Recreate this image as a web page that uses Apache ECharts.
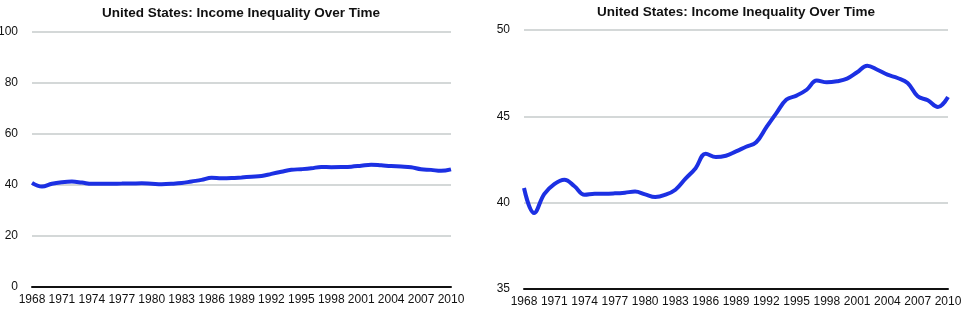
<!DOCTYPE html>
<html>
<head>
<meta charset="utf-8">
<script src="https://cdn.jsdelivr.net/npm/echarts@6/dist/echarts.min.js"></script>
<style>
  html, body { margin: 0; padding: 0; background: #fff; }
  #main { width: 961px; height: 311px; }
</style>
</head>
<body>
<div id="main"></div>
<script>
// years along the x axis
var years = [];
for (var y = 1968; y <= 2010; y++) years.push(String(y));

// income inequality index
var gini = [
  40.85, 39.4, 40.5, 41.08, 41.33, 40.95, 40.46, 40.52, 40.52, 40.54,
  40.58, 40.64, 40.48, 40.33, 40.46, 40.75, 41.39, 42.0, 42.84, 42.64,
  42.72, 42.97, 43.24, 43.5, 44.36, 45.19, 45.97, 46.2, 46.54, 47.07,
  46.97, 47.03, 47.18, 47.55, 47.93, 47.7, 47.41, 47.22, 46.93, 46.16,
  45.93, 45.54, 46.12
];

var titleText = 'United States: Income Inequality Over Time';
var lineColor = '#1c30e3';
var font = 'Liberation Sans';

function xAxisFor(idx) {
  return {
    type: 'category',
    gridIndex: idx,
    data: years,
    boundaryGap: false,
    axisTick: { show: false },
    axisLine: { lineStyle: { color: '#111', width: 2 } },
    axisLabel: {
      interval: 2,
      color: '#111',
      fontSize: 12,
      fontFamily: font,
      margin: 7
    }
  };
}

function yAxisFor(idx, min, max, step) {
  return {
    type: 'value',
    gridIndex: idx,
    min: min,
    max: max,
    interval: step,
    axisLine: { show: false },
    axisTick: { show: false },
    splitLine: { lineStyle: { color: '#c6cbcb', width: 1.5 } },
    axisLabel: { color: '#111', fontSize: 12, fontFamily: font, margin: 14 }
  };
}

function lineFor(idx) {
  return {
    type: 'line',
    xAxisIndex: idx,
    yAxisIndex: idx,
    data: gini,
    smooth: 0.4,
    symbol: 'none',
    lineStyle: { color: lineColor, width: 4 }
  };
}

var titleStyle = { fontSize: 13.5, fontWeight: 'bold', fontFamily: font, color: '#111' };

var chart = echarts.init(document.getElementById('main'));
chart.setOption({
  animation: false,
  backgroundColor: '#fff',
  title: [
    { text: titleText, left: 241, top: 6.5, padding: 0, textAlign: 'center', textStyle: titleStyle },
    { text: titleText, left: 736, top: 5, padding: 0, textAlign: 'center', textStyle: titleStyle }
  ],
  grid: [
    { left: 32, right: 510, top: 32, bottom: 24, outerBoundsMode: 'none' },
    { left: 524, right: 13, top: 30, bottom: 22, outerBoundsMode: 'none' }
  ],
  xAxis: [xAxisFor(0), xAxisFor(1)],
  yAxis: [yAxisFor(0, 0, 100, 20), yAxisFor(1, 35, 50, 5)],
  series: [lineFor(0), lineFor(1)]
});
</script>
</body>
</html>
